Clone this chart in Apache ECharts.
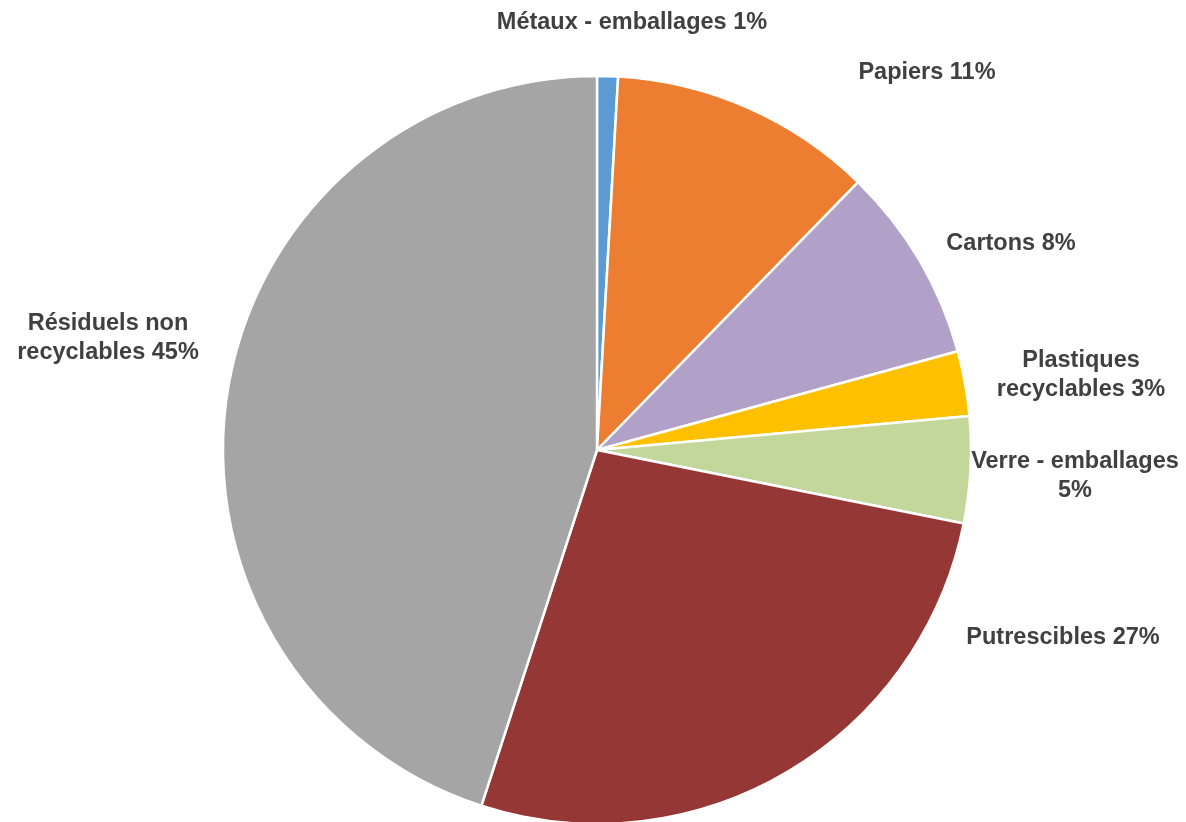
<!DOCTYPE html>
<html><head><meta charset="utf-8">
<script src="https://cdn.jsdelivr.net/npm/echarts@6/dist/echarts.min.js"></script>
<style>html,body{margin:0;padding:0;background:#fff}#c{width:1186px;height:822px}</style>
</head><body><div id="c"></div>
<script>
// Data
const categories = ["Métaux - emballages", "Papiers", "Cartons", "Plastiques recyclables", "Verre - emballages", "Putrescibles", "Résiduels non recyclables"];
const values = [0.9, 11.4, 8.45, 2.8, 4.6, 26.85, 45.0];
const colors = ["#5B9BD5", "#ED7D31", "#B1A0C7", "#FFC000", "#C4D79B", "#953735", "#A5A5A5"];
// Label text line breaks
const labelLines = [null, null, null, ["Plastiques", "recyclables"], ["Verre - emballages", ""], null, ["Résiduels non", "recyclables"]];
// Label placement (centre of each label box, px)
const labelPos = [[632, 23], [927, 73], [1011, 244], [1081, 375], [1075, 476], [1063, 638], [108, 338]];

const chart = echarts.init(document.getElementById('c'), null, {renderer: 'canvas'});
const total = values.reduce((a, b) => a + b, 0);
chart.setOption({
  animation: false,
  series: [{
    type: 'pie',
    center: [597, 450],
    radius: 374,
    startAngle: 90,
    clockwise: true,
    data: categories.map((n, i) => ({name: n, value: values[i], itemStyle: {color: colors[i]}})),
    itemStyle: {borderColor: '#fff', borderWidth: 2.5},
    label: {
      show: true,
      position: 'outside',
      overflow: 'none',
      fontFamily: 'Liberation Sans, Arial, sans-serif',
      fontWeight: 'bold',
      fontSize: 23.5,
      lineHeight: 29,
      color: '#404040',
      align: 'center',
      formatter: p => {
        const pct = Math.round(p.value / total * 100) + '%';
        const l = labelLines[p.dataIndex];
        if (!l) return p.name + ' ' + pct;
        if (l[1] === '') return l[0] + '\n' + pct;
        return l[0] + '\n' + l[1] + ' ' + pct;
      }
    },
    labelLine: {show: false},
    labelLayout: p => ({
      x: labelPos[p.dataIndex][0],
      y: labelPos[p.dataIndex][1],
      align: 'center',
      verticalAlign: 'middle',
      hideOverlap: false
    }),
    emphasis: {disabled: true}
  }]
});
</script></body></html>
